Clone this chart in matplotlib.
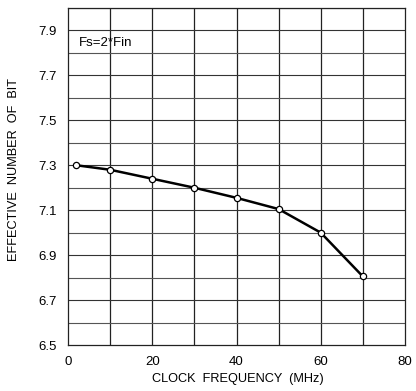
import matplotlib
matplotlib.use("Agg")
import matplotlib.pyplot as plt
import numpy as np

plt.rcParams['font.family'] = ['Liberation Sans', 'DejaVu Sans']

# ENOB vs clock frequency, Fs = 2*Fin
clock_mhz = [2, 10, 20, 30, 40, 50, 60, 70]
enob = [7.30, 7.28, 7.24, 7.20, 7.155, 7.105, 7.00, 6.805]

x_ticks = [0, 20, 40, 60, 80]
y_ticks = [6.5, 6.7, 6.9, 7.1, 7.3, 7.5, 7.7, 7.9]

fig = plt.figure(figsize=(4.16, 3.91), dpi=100)
ax = fig.add_axes([68/416, 1 - 345/391, (405-68)/416, (345-8)/391])

ax.set_xlim(0, 80)
ax.set_ylim(6.5, 8.0)

# grid: every 10 MHz and every 0.1 bit
for gx in np.arange(10, 80, 10):
    ax.axvline(gx, color='#222222', lw=0.9, zorder=1)
for i, gy in enumerate(np.arange(6.6, 8.0, 0.1)):
    ax.axhline(gy, color='#333333' if i % 2 else '#555555', lw=0.8, zorder=1)

ax.plot(clock_mhz, enob, color='black', lw=1.8, zorder=3,
        marker='o', markersize=4.5, markerfacecolor='white',
        markeredgecolor='black', markeredgewidth=0.9)

ax.set_xticks(x_ticks)
ax.set_xticklabels([str(v) for v in x_ticks])
ax.set_yticks(y_ticks)
ax.set_yticklabels([f"{v:.1f}" for v in y_ticks])
ax.tick_params(length=0, labelsize=9.5, pad=8)

for s in ax.spines.values():
    s.set_color('#222222')
    s.set_linewidth(0.9)

ax.text(2.5, 7.845, "Fs=2*Fin", fontsize=9.5, va='center', ha='left')

ax.set_xlabel("CLOCK  FREQUENCY  (MHz)", fontsize=9.2)
ax.set_ylabel("EFFECTIVE  NUMBER  OF  BIT", fontsize=9.2)
ax.xaxis.set_label_coords(0.505, -28/337, transform=ax.transAxes)
ax.yaxis.set_label_coords(-48/337, 0.522, transform=ax.transAxes)

fig.savefig("out.png", dpi=100)
